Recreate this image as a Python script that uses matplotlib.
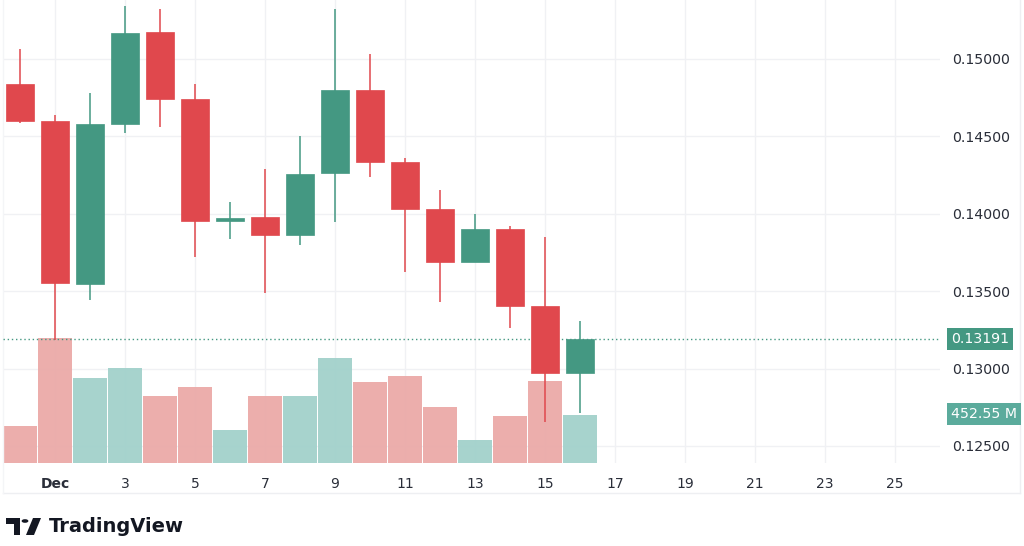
import matplotlib.pyplot as plt
from matplotlib.lines import Line2D
from matplotlib.patches import Rectangle, Circle, Polygon

# ============================================================
# DATA  (daily candles, Nov 30 -> Dec 16; day 1 = Dec 1)
# ============================================================

days = [0, 1, 2, 3, 4, 5, 6, 7, 8, 9, 10, 11, 12, 13, 14, 15, 16]

opens = [0.14839, 0.14599, 0.13547, 0.14580, 0.15174, 0.14742, 0.13955, 0.13979, 0.13863,
         0.14264, 0.14800, 0.14335, 0.14031, 0.13689, 0.13902, 0.13404, 0.12972]
highs = [0.15065, 0.14638, 0.14780, 0.15342, 0.15323, 0.14839, 0.14076, 0.14289, 0.14503,
         0.15323, 0.15032, 0.14360, 0.14154, 0.13999, 0.13921, 0.13850, 0.13307]
lows = [0.14587, 0.13185, 0.13443, 0.14522, 0.14561, 0.13720, 0.13837, 0.13488, 0.13798,
        0.13947, 0.14238, 0.13624, 0.13430, 0.13689, 0.13262, 0.12655, 0.12713]
closes = [0.14599, 0.13553, 0.14580, 0.15168, 0.14742, 0.13953, 0.13975, 0.13863, 0.14257,
          0.14800, 0.14335, 0.14031, 0.13689, 0.13902, 0.13404, 0.12972, 0.13191]

# volume in millions
volumes = [349, 1178, 801, 896, 632, 717, 311, 632, 632, 990, 764, 820, 528, 217, 443, 773, 452.55]

xtick_pos = [1, 3, 5, 7, 9, 11, 13, 15, 17, 19, 21, 23, 25]
xtick_labels = ["Dec", "3", "5", "7", "9", "11", "13", "15", "17", "19", "21", "23", "25"]

ytick_vals = [0.125, 0.130, 0.135, 0.140, 0.145, 0.150]

last_price = 0.13191
last_volume_label = "452.55 M"

# ============================================================
# STYLE
# ============================================================

RED = "#E0484D"
GREEN = "#449882"
VOL_RED = "#EBAAA8"
VOL_GREEN = "#A2D1CB"
GRID = "#F0F1F4"
TEXT = "#2A2E39"

W, H = 1024, 546
fig = plt.figure(figsize=(W / 100, H / 100), dpi=100)

# plot area: x 3..940 px, y 0..463 px
rect = [3 / W, 1 - 463 / H, 937 / W, 463 / H]
XLIM = (-0.486, 26.29)
PRICE_LIM = (0.12390, 0.15381)

base = fig.add_axes(rect, zorder=0)      # grid + price scale
axv = fig.add_axes(rect, zorder=1)       # volume
axc = fig.add_axes(rect, zorder=2)       # candles

for a in (base, axv, axc):
    a.set_xlim(*XLIM)
    for s in a.spines.values():
        s.set_visible(False)
axv.patch.set_visible(False)
axc.patch.set_visible(False)
base.set_ylim(*PRICE_LIM)
axc.set_ylim(*PRICE_LIM)
axv.set_ylim(0, 4365)

# grid
for xp in xtick_pos:
    base.axvline(xp, color=GRID, linewidth=1, zorder=0)
for yv in ytick_vals:
    base.axhline(yv, color=GRID, linewidth=1, zorder=0)

# volume bars
vol_colors = [VOL_GREEN if c >= o else VOL_RED for o, c in zip(opens, closes)]
axv.bar(days, volumes, width=0.95, color=vol_colors, alpha=0.95)

# candles
for d, o, h, l, c in zip(days, opens, highs, lows, closes):
    col = GREEN if c >= o else RED
    axc.vlines(d, l, h, color=col, linewidth=1.1, zorder=3)
    lo, hi = min(o, c), max(o, c)
    if hi - lo < 0.00008:
        hi = lo + 0.00008
    axc.add_patch(Rectangle((d - 0.39, lo), 0.78, hi - lo, facecolor=col,
                            edgecolor=col, linewidth=0.5, zorder=4))

# last price dotted line
axc.axhline(last_price, color=GREEN, linewidth=1.0, linestyle=(0, (1, 2)), zorder=2)

# ticks
axv.set_xticks([])
axv.set_yticks([])
axc.set_xticks([])
axc.set_yticks([])
base.yaxis.tick_right()
base.set_yticks(ytick_vals)
base.set_yticklabels([f"{v:.5f}" for v in ytick_vals])
base.tick_params(axis="y", length=0, pad=9, labelsize=10.2, labelcolor=TEXT)
base.set_xticks(xtick_pos)
base.set_xticklabels(xtick_labels)
base.tick_params(axis="x", length=0, pad=10, labelsize=10, labelcolor=TEXT)
base.get_xticklabels()[0].set_fontweight("bold")

# value tags on the price scale
fig.text(951 / W, 1 - 339 / H, f"{last_price:.5f}", ha="left", va="center",
         fontsize=10.2, color="white", zorder=5,
         bbox=dict(boxstyle="square,pad=0.28", facecolor=GREEN, edgecolor="none"))
fig.text(951 / W, 1 - 414 / H, last_volume_label, ha="left", va="center",
         fontsize=10.2, color="white", zorder=5,
         bbox=dict(boxstyle="square,pad=0.28", facecolor="#5BAB9C", edgecolor="none"))

# frame lines
fig.add_artist(Line2D([3 / W, 1020 / W], [1 - 493 / H, 1 - 493 / H], color="#EEEFF2", linewidth=1))
fig.add_artist(Line2D([1020 / W, 1020 / W], [1 - 493 / H, 1], color="#EEEFF2", linewidth=1))
fig.add_artist(Line2D([3 / W, 3 / W], [1 - 493 / H, 1], color="#F4F5F7", linewidth=1))


# TradingView logo
def px(x, y):
    return (x / W, 1 - y / H)


fig.add_artist(Polygon([px(6, 518), px(20, 518), px(20, 535), px(14, 535), px(14, 524), px(6, 524)],
                       closed=True, facecolor="#131722", edgecolor="none", transform=fig.transFigure))
fig.add_artist(Circle(px(25, 521), 3.4 / W, facecolor="#131722", edgecolor="none",
                      transform=fig.transFigure))
fig.add_artist(Polygon([px(33, 518), px(41, 518), px(34, 535), px(26, 535)],
                       closed=True, facecolor="#131722", edgecolor="none", transform=fig.transFigure))
fig.text(49 / W, 1 - 527 / H, "TradingView", fontsize=14, fontweight="bold",
         color="#131722", ha="left", va="center")

fig.savefig("out.png", dpi=100)
